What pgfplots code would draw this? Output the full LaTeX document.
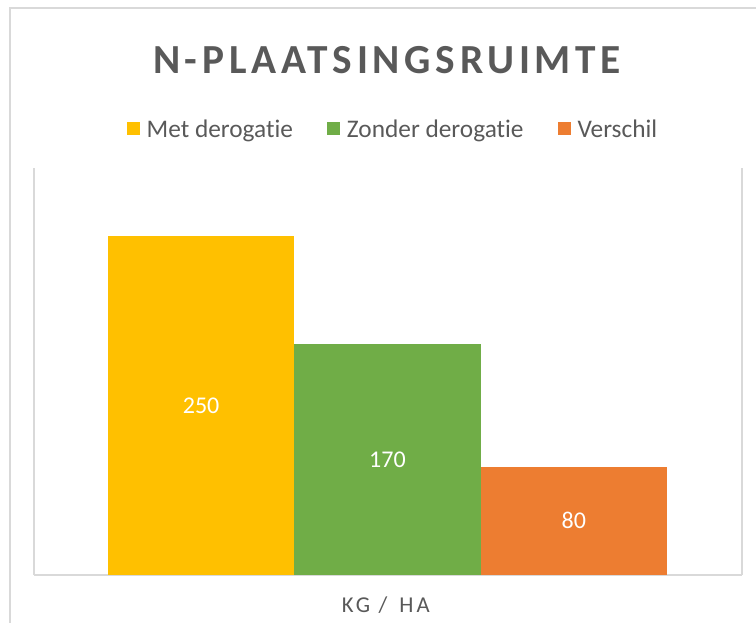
\documentclass[border=0pt]{standalone}
\usepackage{pgfplots}
\pgfplotsset{compat=1.18}
\usepackage{fontspec}
\setmainfont[Ligatures=NoCommon]{Carlito}
\newfontfamily\titlefont[LetterSpace=11.5,Ligatures=NoCommon]{Carlito}
\newfontfamily\labfont[LetterSpace=14,Ligatures=NoCommon]{Carlito}
\definecolor{cYel}{HTML}{FFC000}
\definecolor{cGrn}{HTML}{70AD47}
\definecolor{cOra}{HTML}{ED7D31}
\definecolor{txtgray}{HTML}{595959}
\definecolor{lngray}{HTML}{D9D9D9}
\begin{document}
\begin{tikzpicture}
\useasboundingbox (0,0) rectangle (567pt,466.5pt);
\draw[lngray, line width=1.5pt] (7.5pt,-30pt) |- (620pt,460.5pt);
\begin{axis}[
  at={(25.5pt,35.25pt)}, anchor=south west,
  scale only axis, width=531pt, height=305.1pt,
  xmin=-0.897, xmax=2.903, ymin=0, ymax=300,
  axis x line*=bottom, axis y line*=box,
  axis line style={draw=lngray, line width=1.1pt},
  xtick=\empty, ytick=\empty,
  /pgf/number format/assume math mode=true,
  ybar, bar width=1,
  title={N-PLAATSINGSRUIMTE},
  title style={at={(axis description cs:0.4986,1.2365)}, anchor=base, yshift=-7.5pt, text=txtgray, inner sep=0pt,
    font=\titlefont\bfseries\fontsize{31}{37}\selectfont},
  xlabel={KG /\, HA},
  xlabel style={at={(axis description cs:0.497,-0.091)}, anchor=base, text=txtgray, inner sep=0pt,
    font=\labfont\fontsize{17}{20}\selectfont},
  legend columns=3,
  legend style={at={(axis description cs:0.5056,1.094)}, anchor=center, draw=none, fill=none,
    inner sep=0pt, column sep=5.25pt,
    nodes={inner sep=0pt, text=txtgray, font=\fontsize{19}{22}\selectfont}},
  legend image code/.code={\fill[#1] (0pt,-3.6pt) rectangle (9.75pt,6.15pt);},
  visualization depends on={y \as \rawy},
  nodes near coords,
  nodes near coords style={anchor=center, text=white, font=\fontsize{18}{21}\selectfont,
    shift={(axis direction cs:0,-\rawy/2)}},
]
\addplot[fill=cYel, draw=none, bar shift=0] coordinates {(0,250)};
\addplot[fill=cGrn, draw=none, bar shift=0] coordinates {(1,170)};
\addplot[fill=cOra, draw=none, bar shift=0] coordinates {(2,80)};
\legend{Met derogatie\rule{20.25pt}{0pt}, Zonder derogatie\rule{20.25pt}{0pt}, Verschil}
\end{axis}
\end{tikzpicture}
\end{document}
